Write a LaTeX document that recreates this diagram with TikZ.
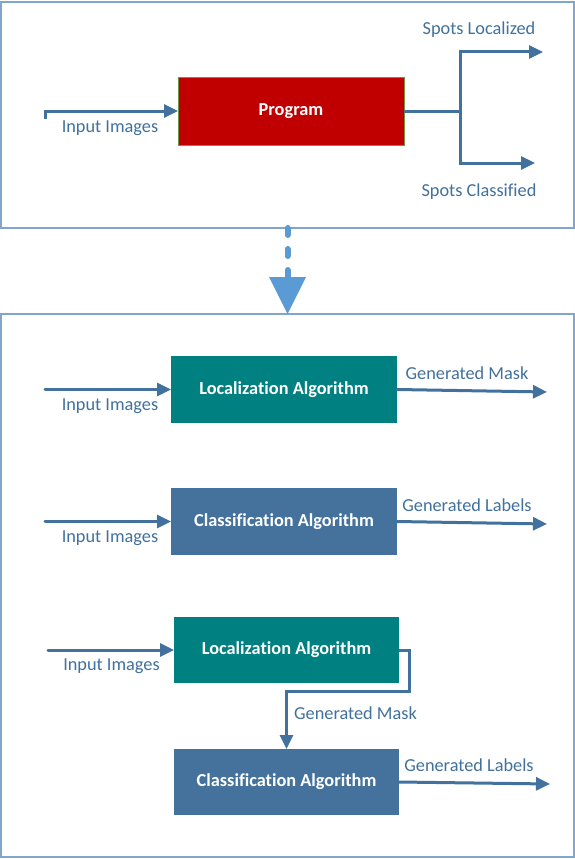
\documentclass[tikz,border=0pt]{standalone}
\usepackage{fontspec}
\setmainfont{Carlito}[Ligatures={NoRequired,NoCommon,NoContextual},Contextuals=NoAlternate]
\usetikzlibrary{arrows.meta}
\definecolor{arrowc}{RGB}{65,113,156}
\definecolor{tealc}{RGB}{0,128,128}
\definecolor{clsc}{RGB}{68,114,157}
\definecolor{redc}{RGB}{192,0,0}
\definecolor{progborder}{RGB}{110,150,60}
\definecolor{dashc}{RGB}{91,155,213}
\definecolor{framec}{RGB}{130,165,205}
\begin{document}
\begin{tikzpicture}[x=1pt,y=-1pt,
  txt/.style={font=\fontsize{18.3pt}{22pt}\selectfont, text=arrowc, inner sep=0pt},
  boxtxt/.style={font=\fontsize{18.3pt}{22pt}\selectfont\bfseries, text=white, inner sep=0pt, outer sep=0pt},
  framebox/.style={draw=framec, line width=1.2pt, inner sep=0pt, outer sep=0pt, anchor=north west},
  conn/.style={draw=arrowc, line width=3pt, line cap=round, line join=miter, -{Triangle[length=14pt,width=13pt]}},
  plain/.style={draw=arrowc, line width=3pt, line cap=round, line join=miter},
]
\useasboundingbox (0,0) rectangle (575,859);
\fill[white] (0,0) rectangle (575,859);

% frames
\node[framebox, minimum width=573pt, minimum height=226pt] (topf) at (1,2) {};
\node[framebox, minimum width=573pt, minimum height=543pt] (botf) at (1,314) {};

% top panel
\node[boxtxt, fill=redc, draw=progborder, line width=0.8pt, minimum width=226pt, minimum height=68pt] (prog) at (291,111) {Program};
\coordinate (in1) at (45,119);
\draw[conn, line cap=butt] (in1) |- (prog.west);
\node[txt] (lin1) at (110,128.5) {Input Images};
\coordinate (sp) at (460,111);
\coordinate (sl) at (543,52);
\coordinate (sc) at (535,163);
\draw[plain, line cap=butt] (prog.east) -- (sp);
\draw[conn, line cap=butt] (sp) |- (sl);
\draw[conn, line cap=butt] (sp) |- (sc);
\node[txt] (lsl) at (479,29.5) {Spots Localized};
\node[txt] (lsc) at (479,191.5) {Spots Classified};

% dashed connector between panels
\coordinate (d0) at (287.5,228);
\coordinate (d1) at (287.5,277);
\coordinate (tl) at (269,277);
\coordinate (tr) at (306,277);
\coordinate (tb) at (287.5,314);
\draw[dashc, line width=6pt, line cap=round, dash pattern=on 7pt off 14pt] (d0) -- (d1);
\fill[dashc] (tl) -- (tr) -- (tb) -- cycle;

% bottom panel, row 1
\node[boxtxt, fill=tealc, minimum width=226pt, minimum height=67pt] (loc1) at (284,389.5) {Localization Algorithm};
\coordinate (in2) at (45,389.5);
\draw[conn] (in2) -- (loc1.west);
\node[txt] (lin2) at (110,406.5) {Input Images};
\coordinate (o1) at (547,392);
\draw[conn] (loc1.east) -- (o1);
\node[txt] (lo1) at (467,373.5) {Generated Mask};

% row 2
\node[boxtxt, fill=clsc, minimum width=226pt, minimum height=67pt] (cls1) at (284,521.5) {Classification Algorithm};
\coordinate (in3) at (45,521.5);
\draw[conn] (in3) -- (cls1.west);
\node[txt] (lin3) at (110,538.5) {Input Images};
\coordinate (o2) at (547,524);
\draw[conn] (cls1.east) -- (o2);
\node[txt] (lo2) at (467,505.5) {Generated Labels};

% row 3: chained
\node[boxtxt, fill=tealc, minimum width=225pt, minimum height=66pt] (loc2) at (286.5,650) {Localization Algorithm};
\node[boxtxt, fill=clsc, minimum width=225pt, minimum height=66pt] (cls2) at (286.5,782) {Classification Algorithm};
\coordinate (in4) at (48,650);
\draw[conn] (in4) -- (loc2.west);
\node[txt] (lin4) at (111.5,666.5) {Input Images};
\coordinate (b1) at (409,650);
\coordinate (b2) at (409,691);
\draw[conn, line cap=butt] (loc2.east) -- (b1) -- (b2) -| (cls2.north);
\node[txt] (lm) at (355.5,713.5) {Generated Mask};
\coordinate (o3) at (550,784);
\draw[conn] (cls2.east) -- (o3);
\node[txt] (lo3) at (469,765.5) {Generated Labels};
\end{tikzpicture}
\end{document}
